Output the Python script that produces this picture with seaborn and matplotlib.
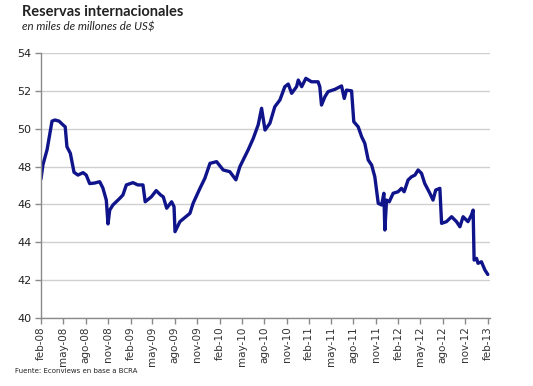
import matplotlib
matplotlib.use("Agg")
import matplotlib.pyplot as plt
import matplotlib.dates as mdates
import seaborn as sns
import pandas as pd

fechas = [
    "2008-02-01", "2008-02-09", "2008-02-26", "2008-03-17", "2008-03-29", "2008-04-15",
    "2008-05-01", "2008-05-10", "2008-05-17", "2008-05-31", "2008-06-15", "2008-07-01",
    "2008-07-22", "2008-08-04", "2008-08-18", "2008-09-07", "2008-09-28", "2008-10-11",
    "2008-10-25", "2008-11-01", "2008-11-08", "2008-11-21", "2008-12-19", "2009-01-01",
    "2009-01-15", "2009-02-11", "2009-03-03", "2009-03-24", "2009-04-02", "2009-04-27",
    "2009-05-17", "2009-06-04", "2009-06-15", "2009-06-29", "2009-07-19", "2009-07-29",
    "2009-08-02", "2009-08-22", "2009-10-02", "2009-10-15", "2009-11-12", "2009-12-02",
    "2009-12-23", "2010-01-19", "2010-02-15", "2010-03-14", "2010-04-08", "2010-04-24",
    "2010-05-28", "2010-06-18", "2010-07-08", "2010-07-22", "2010-08-05", "2010-08-25",
    "2010-09-14", "2010-10-05", "2010-10-25", "2010-11-08", "2010-11-22", "2010-12-12",
    "2010-12-19", "2011-01-02", "2011-01-19", "2011-02-11", "2011-03-10", "2011-03-17",
    "2011-03-24", "2011-04-07", "2011-04-20", "2011-05-18", "2011-06-14", "2011-06-25",
    "2011-07-04", "2011-07-25", "2011-08-03", "2011-08-21", "2011-09-04", "2011-09-17",
    "2011-10-01", "2011-10-15", "2011-10-28", "2011-11-11", "2011-11-25", "2011-12-04",
    "2011-12-08", "2011-12-15", "2011-12-26", "2012-01-11", "2012-01-31", "2012-02-14",
    "2012-02-25", "2012-03-12", "2012-03-26", "2012-04-09", "2012-04-22", "2012-05-06",
    "2012-05-19", "2012-06-09", "2012-06-22", "2012-07-03", "2012-07-20", "2012-07-27",
    "2012-08-16", "2012-09-06", "2012-09-26", "2012-10-10", "2012-10-23", "2012-11-12",
    "2012-11-26", "2012-12-03", "2012-12-07", "2012-12-17", "2012-12-23", "2013-01-06",
    "2013-01-20", "2013-02-01",
]
reservas = [
    47.35, 48.1, 48.9, 50.4, 50.46, 50.4,
    50.2, 50.1, 49.05, 48.7, 47.7, 47.55,
    47.68, 47.55, 47.1, 47.13, 47.2, 46.87,
    46.23, 44.97, 45.7, 45.97, 46.32, 46.5,
    47.03, 47.15, 47.03, 47.03, 46.14, 46.4,
    46.73, 46.5, 46.4, 45.8, 46.14, 45.88,
    44.56, 45.09, 45.53, 46.06, 46.85, 47.38,
    48.17, 48.26, 47.82, 47.73, 47.3, 47.99,
    48.88, 49.49, 50.2, 51.08, 49.93, 50.29,
    51.16, 51.52, 52.22, 52.36, 51.87, 52.22,
    52.57, 52.22, 52.66, 52.48, 52.48, 52.22,
    51.25, 51.69, 51.96, 52.08, 52.26, 51.6,
    52.04, 52.0, 50.37, 50.1, 49.58, 49.23,
    48.35, 48.08, 47.46, 46.06, 45.97, 46.59,
    44.65, 46.23, 46.14, 46.59, 46.67, 46.85,
    46.67, 47.29, 47.46, 47.55, 47.82, 47.64,
    47.11, 46.59, 46.23, 46.76, 46.85, 45.0,
    45.09, 45.35, 45.09, 44.82, 45.35, 45.09,
    45.44, 45.7, 43.06, 43.15, 42.89, 42.97,
    42.54, 42.3,
]
meses_es = ["ene", "feb", "mar", "abr", "may", "jun", "jul", "ago", "sep", "oct", "nov", "dic"]
y_ticks = [40, 42, 44, 46, 48, 50, 52, 54]

titulo = "Reservas internacionales"
subtitulo = "en miles de millones de US$"
fuente = "Fuente: Econviews en base a BCRA"

df = pd.DataFrame({"fecha": pd.to_datetime(fechas), "reservas": reservas})

sns.set_theme(style="white")
plt.rcParams["font.family"] = ["DejaVu Sans"]

fig = plt.figure(figsize=(5.33, 3.86), dpi=100)
ax = fig.add_axes([41 / 533, 1 - 318 / 386, (490 - 41) / 533, (318 - 53) / 386])

sns.lineplot(data=df, x="fecha", y="reservas", ax=ax, color="#10148a", linewidth=2.4)

ax.set_ylim(40, 54)
ax.set_yticks(y_ticks)
ax.set_xlim(pd.Timestamp("2008-02-01"), pd.Timestamp("2013-02-10"))
ax.xaxis.set_major_locator(mdates.MonthLocator(bymonth=[2, 5, 8, 11], bymonthday=1))
ax.xaxis.set_major_formatter(
    plt.FuncFormatter(lambda v, p: "%s-%s" % (meses_es[mdates.num2date(v).month - 1],
                                              mdates.num2date(v).strftime("%y"))))
ax.set_xlabel("")
ax.set_ylabel("")

ax.yaxis.grid(True, color="#d0d0d0", linewidth=1.0)
ax.xaxis.grid(False)
for s in ["top", "right"]:
    ax.spines[s].set_visible(False)
for s in ["left", "bottom"]:
    ax.spines[s].set_color("#8a8a8a")
    ax.spines[s].set_linewidth(1.0)

ax.tick_params(axis="x", direction="out", length=4, width=1, color="#8a8a8a",
               labelsize=7.5, labelrotation=90, labelcolor="#333333", pad=2)
ax.tick_params(axis="y", direction="out", length=4, width=1, color="#8a8a8a",
               labelsize=8, labelcolor="#222222", pad=3)
ax.tick_params(bottom=True, left=True)

fig.text(22 / 533, 1 - 12 / 386, titulo, fontsize=10.5, fontweight="bold",
         color="#222222", va="center", ha="left", family=["Lato", "DejaVu Sans"])
fig.text(22 / 533, 1 - 27 / 386, subtitulo, fontsize=8.3, style="italic",
         color="#222222", va="center", ha="left", family=["Lato", "DejaVu Sans"])
fig.text(15 / 533, 1 - 371 / 386, fuente, fontsize=5, color="#222222",
         va="center", ha="left")

fig.savefig("out.png", dpi=100, facecolor="white")
